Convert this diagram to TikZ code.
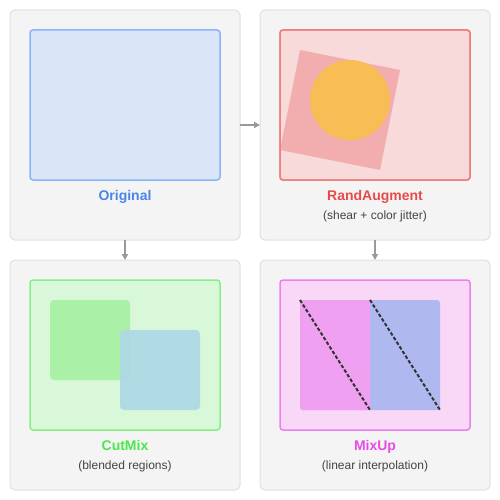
\documentclass[tikz,border=0pt]{standalone}
\usepackage{fontspec}
\setmainfont{Liberation Sans}
\usetikzlibrary{arrows.meta}
\definecolor{panelfill}{HTML}{F4F4F4}
\definecolor{panelline}{HTML}{E0E0E0}
\definecolor{arrowc}{HTML}{999999}
\definecolor{subc}{HTML}{444444}
\definecolor{origfill}{HTML}{DAE6F7}
\definecolor{origline}{HTML}{8AB4F8}
\definecolor{origtext}{HTML}{4A86E8}
\definecolor{randfill}{HTML}{F8DADA}
\definecolor{randline}{HTML}{EE8080}
\definecolor{randtext}{HTML}{E84A4A}
\definecolor{randsq}{HTML}{F2AEAE}
\definecolor{randcirc}{HTML}{F8BD55}
\definecolor{cutfill}{HTML}{D9F8D9}
\definecolor{cutline}{HTML}{88EE88}
\definecolor{cuttext}{HTML}{4AE84A}
\definecolor{cutsqa}{HTML}{AAF0A6}
\definecolor{cutsqb}{HTML}{ADD8E6}
\definecolor{mixfill}{HTML}{F8D8F6}
\definecolor{mixline}{HTML}{EE80EE}
\definecolor{mixtext}{HTML}{E84AE8}
\definecolor{mixl}{HTML}{F0A0F0}
\definecolor{mixr}{HTML}{B0B8F0}
\tikzset{
  panel/.style={draw=panelline, fill=panelfill, line width=1pt, rounded corners=5pt,
    minimum width=230pt, minimum height=230pt, inner sep=0pt, outer sep=0pt},
  imgbox/.style={line width=1.5pt, rounded corners=3pt,
    minimum width=190pt, minimum height=150pt, inner sep=0pt, outer sep=0pt},
  title/.style={font=\fontsize{14}{16}\selectfont\bfseries, inner sep=0pt, anchor=base},
  subtitle/.style={font=\fontsize{12}{14}\selectfont, text=subc, inner sep=0pt, anchor=base},
  conn/.style={draw=arrowc, line width=1.5pt, -{Triangle[length=6pt,width=6pt]}},
  diag/.style={draw=black!80, line width=2pt, dash pattern=on 3.5pt off 2pt}
}
\begin{document}
\begin{tikzpicture}[x=1pt,y=-1pt]
\useasboundingbox (0,0) rectangle (500,500);
\fill[white] (0,0) rectangle (500,500);
% panels
\node[panel] (p1) at (125,125) {};
\node[panel] (p2) at (375,125) {};
\node[panel] (p3) at (125,375) {};
\node[panel] (p4) at (375,375) {};
% connectors
\draw[conn] (p1.east) -- (p2.west);
\draw[conn] (p1.south) -- (p3.north);
\draw[conn] (p2.south) -- (p4.north);
% Original
\node[imgbox, draw=origline, fill=origfill] (i1) at (125,105) {};
\node[title, text=origtext] (t1) at (125,200) {Original};
% RandAugment
\node[imgbox, draw=randline, fill=randfill] (i2) at (375,105) {};
\fill[randsq] (300,50) -- (400,70) -- (380,170) -- (280,150) -- cycle;
\fill[randcirc] (350,100) circle[radius=40];
\draw[randline, line width=1.5pt, rounded corners=3pt] (280,30) rectangle (470,180);
\node[title, text=randtext] (t2) at (375,200) {RandAugment};
\node[subtitle] (s2) at (375,219.5) {(shear + color jitter)};
% CutMix
\node[imgbox, draw=cutline, fill=cutfill] (i3) at (125,355) {};
\fill[cutsqa, rounded corners=4pt] (50,300) rectangle (130,380);
\fill[cutsqb, opacity=0.9, rounded corners=4pt] (120,330) rectangle (200,410);
\node[title, text=cuttext] (t3) at (125,450) {CutMix};
\node[subtitle] (s3) at (125,469.5) {(blended regions)};
% MixUp
\node[imgbox, draw=mixline, fill=mixfill] (i4) at (375,355) {};
\fill[mixr, rounded corners=3pt] (300,300) rectangle (440,410);
\fill[mixl, rounded corners=3pt] (300,300) rectangle (370,410);
\fill[mixl] (360,300) rectangle (370,410);
\draw[diag] (300,300) -- (370,410);
\draw[diag] (370,300) -- (440,410);
\node[title, text=mixtext] (t4) at (375,450) {MixUp};
\node[subtitle] (s4) at (375,469.5) {(linear interpolation)};
\end{tikzpicture}
\end{document}
